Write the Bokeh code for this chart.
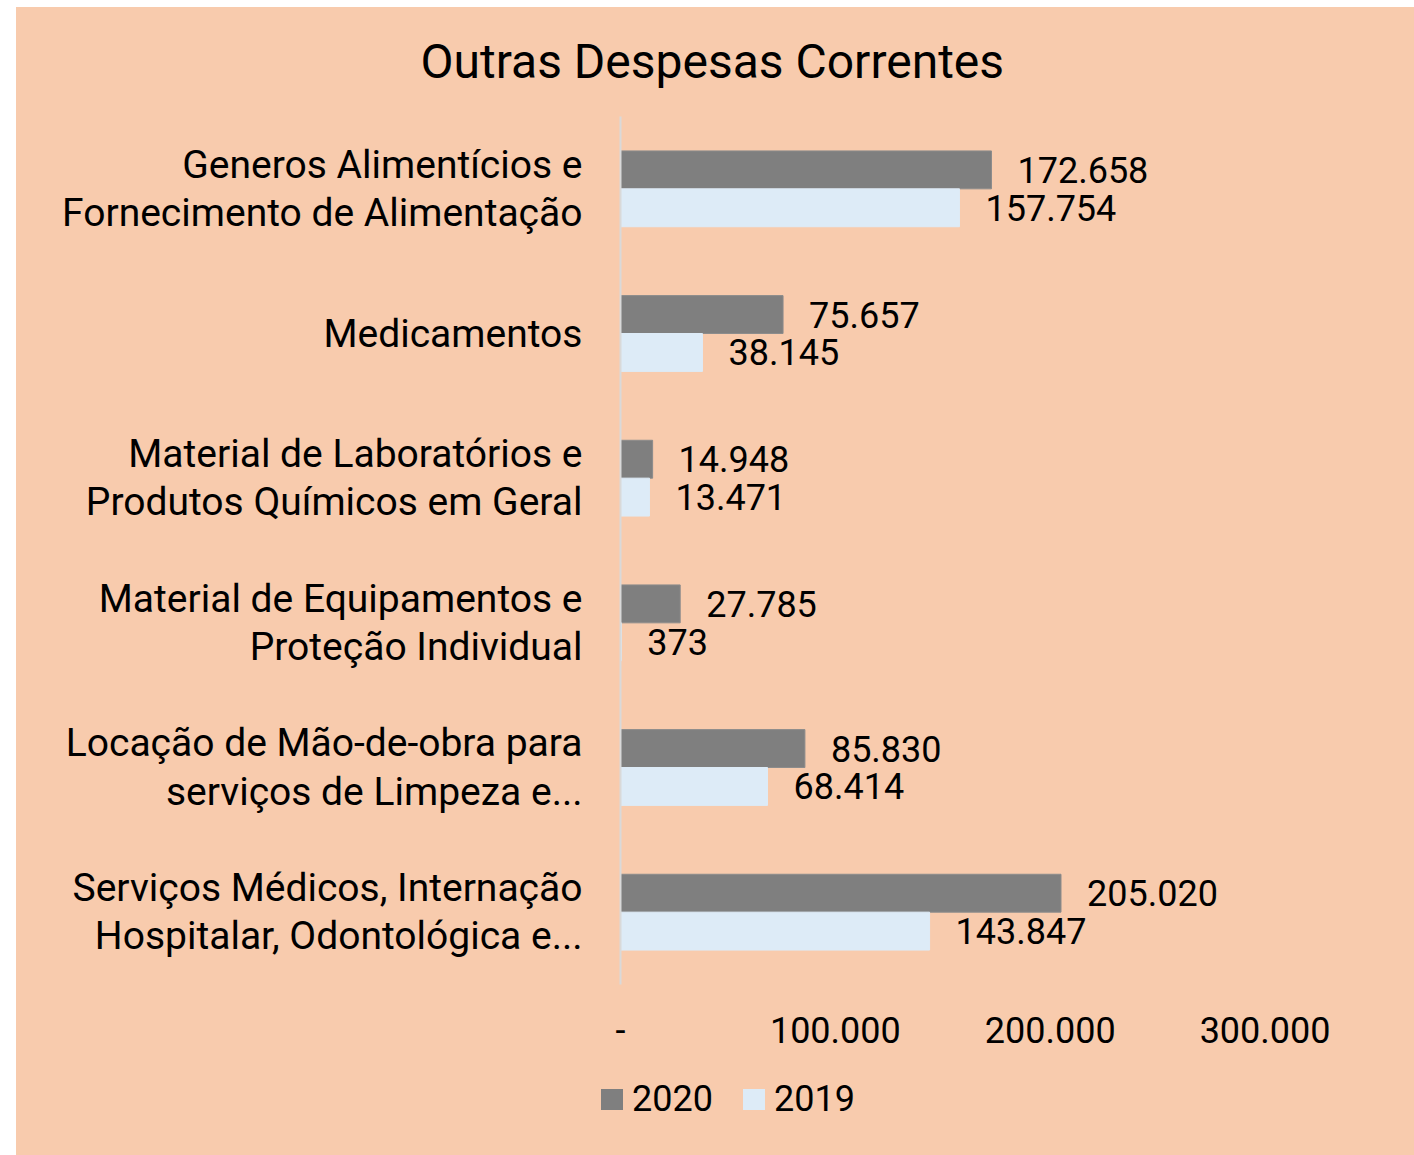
from bokeh.plotting import figure
from bokeh.models import (ColumnDataSource, FactorRange, Range1d, FixedTicker,
                          LabelSet, Spacer, Div)
from bokeh.core.properties import value
from bokeh.layouts import row, column
from bokeh.transform import dodge
from bokeh.embed import file_html
from bokeh.resources import INLINE

categories = [
    "Generos Alimentícios e\nFornecimento de Alimentação",
    "Medicamentos",
    "Material de Laboratórios e\nProdutos Químicos em Geral",
    "Material de Equipamentos e\nProteção Individual",
    "Locação de Mão-de-obra para\nserviços de Limpeza e...",
    "Serviços Médicos, Internação\nHospitalar, Odontológica e...",
]
values_2020 = [172658, 75657, 14948, 27785, 85830, 205020]
values_2019 = [157754, 38145, 13471, 373, 68414, 143847]
series_names = ["2020", "2019"]
series_colors = ["#7F7F7F", "#DDEBF7"]
x_ticks = [0, 100000, 200000, 300000]
x_tick_labels = ["-", "100.000", "200.000", "300.000"]


def fmt(v):
    return f"{v:,}".replace(",", ".")


src = ColumnDataSource(dict(
    cat=categories,
    v2020=values_2020,
    v2019=values_2019,
    l2020=[fmt(v) for v in values_2020],
    l2019=[fmt(v) for v in values_2019],
))

BG = "#F8CBAD"
FONT = "Roboto"
W = 1395

p = figure(
    width=W, height=1058,
    y_range=FactorRange(factors=list(reversed(categories))),
    x_range=Range1d(0, 350000),
    output_backend="svg", toolbar_location=None,
    min_border_left=604, min_border_right=39,
    min_border_top=108, min_border_bottom=81,
)
p.background_fill_color = None
p.border_fill_color = None
p.outline_line_color = None
p.grid.grid_line_color = None

p.title.text = "Outras Despesas Correntes"
p.title.text_font = FONT
p.title.text_font_size = "48px"
p.title.text_font_style = "normal"
p.title.text_color = "#000000"
p.title.align = "left"
p.title.offset = -200
p.title.vertical_align = "top"
p.title.standoff = 50

p.hbar(y=dodge("cat", 0.131, range=p.y_range), right="v2020", height=0.262,
       source=src, fill_color=series_colors[0], line_color="#8C8C8C", line_width=1)
p.hbar(y=dodge("cat", -0.131, range=p.y_range), right="v2019", height=0.262,
       source=src, fill_color=series_colors[1], line_color=series_colors[1], line_width=1)

for col, lab, off in (("v2020", "l2020", 0.131), ("v2019", "l2019", -0.131)):
    p.add_layout(LabelSet(x=col, y=dodge("cat", off, range=p.y_range), text=lab,
                          source=src, x_offset=26, text_baseline="middle",
                          text_font=value(FONT), text_font_size=value("36px"),
                          text_color="#000000"))

# y axis
p.yaxis.axis_line_color = "#D9D9D9"
p.yaxis.axis_line_width = 2
p.yaxis.major_tick_line_color = None
p.yaxis.minor_tick_line_color = None
p.yaxis.major_label_standoff = 32
p.yaxis.major_label_text_font = FONT
p.yaxis.major_label_text_font_size = "39px"
p.yaxis.major_label_text_color = "#000000"
p.yaxis.major_label_text_line_height = 1.05

# x axis
p.xaxis.axis_line_color = None
p.xaxis.major_tick_line_color = None
p.xaxis.minor_tick_line_color = None
p.xaxis.ticker = FixedTicker(ticks=x_ticks)
p.xaxis.major_label_overrides = {t: s for t, s in zip(x_ticks, x_tick_labels)}
p.xaxis.major_label_standoff = 26
p.xaxis.major_label_text_font = FONT
p.xaxis.major_label_text_font_size = "36px"
p.xaxis.major_label_text_color = "#000000"

# legend strip below the chart
items_html = "".join(
    f'<span style="display:inline-block;width:22px;height:21px;background:{c};'
    f'margin-right:9px;"></span><span style="margin-right:30px;">{n}</span>'
    for n, c in zip(series_names, series_colors)
)
legend_div = Div(
    text=f'<div style="display:flex;align-items:center;height:58px;padding-left:580px;'
         f'font-family:Roboto;font-size:36px;color:#000;line-height:1;">{items_html}</div>',
    width=W, height=90,
)

chart = column(p, legend_div, spacing=0, styles={"background-color": BG})
layout = column(Spacer(height=7), row(Spacer(width=16), chart, spacing=0), spacing=0)
with open("out.html", "w") as f:
    f.write(file_html(layout, INLINE))
